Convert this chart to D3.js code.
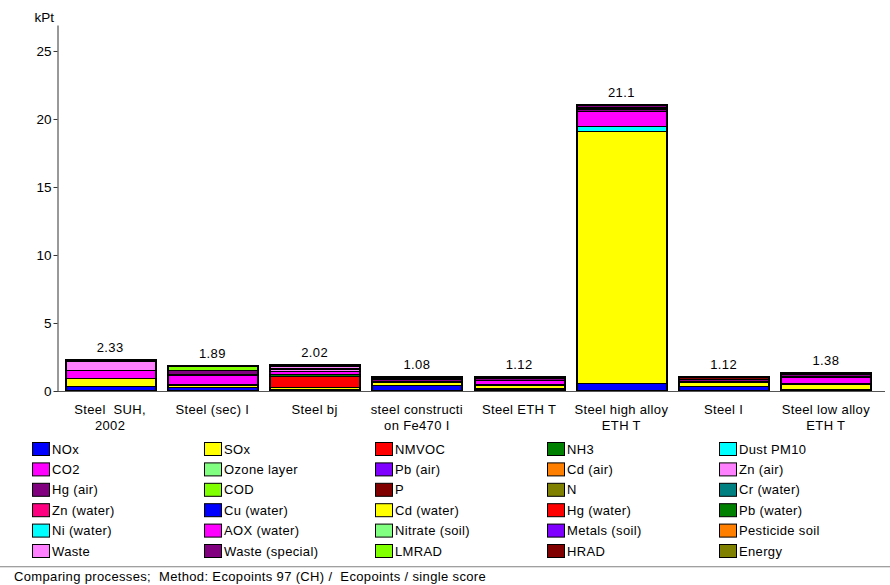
<!DOCTYPE html>
<html><head><meta charset="utf-8">
<script src="https://cdn.jsdelivr.net/npm/d3@7"></script>
<style>
body{margin:0;background:#fff;}
text{font-family:"Liberation Sans",Arial,sans-serif;}
</style></head>
<body><svg id="c" width="890" height="585"></svg>
<script>
// Categories (label lines)
const categories = [
  ["Steel  SUH,","2002"],
  ["Steel (sec) I"],
  ["Steel bj"],
  ["steel constructi","on Fe470 I"],
  ["Steel ETH T"],
  ["Steel high alloy","ETH T"],
  ["Steel I"],
  ["Steel low alloy","ETH T"]
];
const seriesNames = ["NOx","SOx","NMVOC","NH3","Dust PM10","CO2","Ozone layer","Pb (air)","Cd (air)","Zn (air)",
  "Hg (air)","COD","P","N","Cr (water)","Zn (water)","Cu (water)","Cd (water)","Hg (water)","Pb (water)",
  "Ni (water)","AOX (water)","Nitrate (soil)","Metals (soil)","Pesticide soil","Waste","Waste (special)","LMRAD","HRAD","Energy"];
const seriesColors = ["#0000ff","#ffff00","#ff0000","#008000","#00ffff","#ff00ff","#80ff80","#8000ff","#ff8000","#ff80ff",
  "#800080","#80ff00","#800000","#808000","#008080","#ff0080","#0000ff","#ffff00","#ff0000","#008000",
  "#00ffff","#ff00ff","#80ff80","#8000ff","#ff8000","#ff80ff","#800080","#80ff00","#800000","#808000"];
// values (kPt) per series, one entry per category
const NOx          = [0.35,0.27,0.17,0.42,0,   0.6, 0.40,0.18];
const SOx          = [0.57,0.15,0.10,0.22,0.18,18.5,0.25,0.32];
const NMVOC        = [0,   0,   0.85,0,   0,   0,   0,   0   ];
const NH3          = [0,   0.12,0.12,0.10,0.06,0,   0.10,0.08];
const DustPM10     = [0,   0,   0,   0,   0,   0.35,0,   0   ];
const CO2          = [0.63,0.60,0.25,0,   0,   1.15,0,   0.45];
const ZnAir        = [0,   0.12,0.10,0,   0,   0,   0,   0   ];
const HgAir        = [0,   0.25,0.08,0.16,0,   0.10,0.15,0.10];
const COD          = [0,   0.35,0,   0,   0,   0,   0,   0   ];
const P            = [0,   0.03,0,   0.06,0,   0.10,0.10,0   ];
const N            = [0,   0,   0,   0,   0,   0.10,0,   0   ];
const CdWater      = [0,   0,   0,   0,   0.22,0,   0,   0   ];
const PbWater      = [0,   0,   0,   0,   0.08,0,   0,   0   ];
const AOXWater     = [0,   0,   0,   0,   0.24,0,   0,   0   ];
const Waste        = [0.63,0,   0.20,0,   0,   0,   0,   0   ];
const WasteSpecial = [0.15,0,   0.15,0.12,0.14,0.10,0.12,0.15];
const HRAD         = [0,   0,   0,   0,   0.10,0.10,0,   0   ];
const Energy       = [0,   0,   0,   0,   0.10,0,   0,   0.10];
const yTicks = [0,5,10,15,20,25];
const yUnit = "kPt";
const footer = "Comparing processes;  Method: Ecopoints 97 (CH) /  Ecopoints / single score";

const zero = categories.map(()=>0);
const used = {"NOx":NOx,"SOx":SOx,"NMVOC":NMVOC,"NH3":NH3,"Dust PM10":DustPM10,"CO2":CO2,"Zn (air)":ZnAir,
  "Hg (air)":HgAir,"COD":COD,"P":P,"N":N,"Cd (water)":CdWater,"Pb (water)":PbWater,"AOX (water)":AOXWater,
  "Waste":Waste,"Waste (special)":WasteSpecial,"HRAD":HRAD,"Energy":Energy};
const rows = categories.map((c,i)=>{
  const r = {idx:i};
  seriesNames.forEach(s=>{ r[s] = (used[s]||zero)[i]; });
  return r;
});
const stacked = d3.stack().keys(seriesNames)(rows);
const totals = rows.map(r=>d3.sum(seriesNames,s=>r[s]));

const FS = 13, LS = "0.35px";
const svg = d3.select("#c");
const x = d3.scaleBand().domain(d3.range(categories.length)).range([59,877]).paddingInner(0.108).paddingOuter(0.054);
const y = d3.scaleLinear().domain([0,26.91]).range([391,25]);

// bars
const g = svg.append("g");
stacked.forEach((layer,si)=>{
  g.selectAll(null).data(layer.filter(d=>d[1]-d[0]>0)).enter().append("rect")
    .attr("x",d=>Math.round(x(d.data.idx))+0.5)
    .attr("width",Math.round(x.bandwidth()))
    .attr("y",d=>Math.round(y(d[1]))+0.5)
    .attr("height",d=>Math.max(0,Math.round(y(d[0]))-Math.round(y(d[1]))))
    .attr("fill",seriesColors[si])
    .attr("stroke","#000").attr("stroke-width",1);
});
// bar outlines
g.selectAll(".outline").data(totals).enter().append("rect")
  .attr("x",(d,i)=>Math.round(x(i))+1)
  .attr("width",Math.round(x.bandwidth())-1)
  .attr("y",d=>Math.round(y(d))+1)
  .attr("height",d=>Math.round(y(0))-Math.round(y(d))-1)
  .attr("fill","none").attr("stroke","#000").attr("stroke-width",2);

// totals
svg.selectAll(".tot").data(totals).enter().append("text")
  .attr("x",(d,i)=>x(i)+x.bandwidth()/2)
  .attr("y",d=>y(d)-7)
  .attr("text-anchor","middle").attr("font-size",FS).attr("letter-spacing",LS).attr("fill","#000")
  .text(d=>d3.format(".3")(d));

// baseline
svg.append("line").attr("x1",57).attr("x2",885).attr("y1",391.5).attr("y2",391.5).attr("stroke","#555");

// y axis
const ax = svg.append("g").attr("transform","translate(57.5,0)")
  .call(d3.axisLeft(y).tickValues(yTicks).tickSize(4).tickSizeOuter(0).tickFormat(d3.format("d")));
ax.select(".domain").attr("stroke","#333");
ax.selectAll(".tick line").attr("stroke","#333");
ax.selectAll(".tick text").attr("font-size",13.5).attr("fill","#000").attr("font-family","Liberation Sans, Arial, sans-serif").attr("x",-6);
svg.append("text").attr("x",54).attr("y",22).attr("text-anchor","end").attr("font-size",13.5).text(yUnit);

// category labels
categories.forEach((lines,i)=>{
  lines.forEach((t,j)=>{
    svg.append("text").attr("x",x(i)+x.bandwidth()/2).attr("y",414+j*16)
      .attr("text-anchor","middle").attr("font-size",FS).attr("letter-spacing",LS).attr("xml:space","preserve").text(t);
  });
});

// legend
const colX = [32,204,375,547,719];
seriesNames.forEach((s,i)=>{
  const col = i%5, row = Math.floor(i/5);
  const lx = colX[col], ly = 442+row*20.4;
  svg.append("rect").attr("x",lx+0.5).attr("y",ly+0.5).attr("width",17).attr("height",13)
    .attr("fill",seriesColors[i]).attr("stroke","#000");
  svg.append("text").attr("x",lx+20).attr("y",ly+11.5).attr("font-size",FS).attr("letter-spacing",LS).text(s);
});

// footer
svg.append("line").attr("x1",0).attr("x2",890).attr("y1",566.5).attr("y2",566.5).attr("stroke","#a0a0a0");
svg.append("line").attr("x1",0).attr("x2",890).attr("y1",567.5).attr("y2",567.5).attr("stroke","#e0e0e0");
svg.append("text").attr("x",14).attr("y",581).attr("font-size",FS).attr("letter-spacing",LS).attr("xml:space","preserve").text(footer);
</script></body></html>
